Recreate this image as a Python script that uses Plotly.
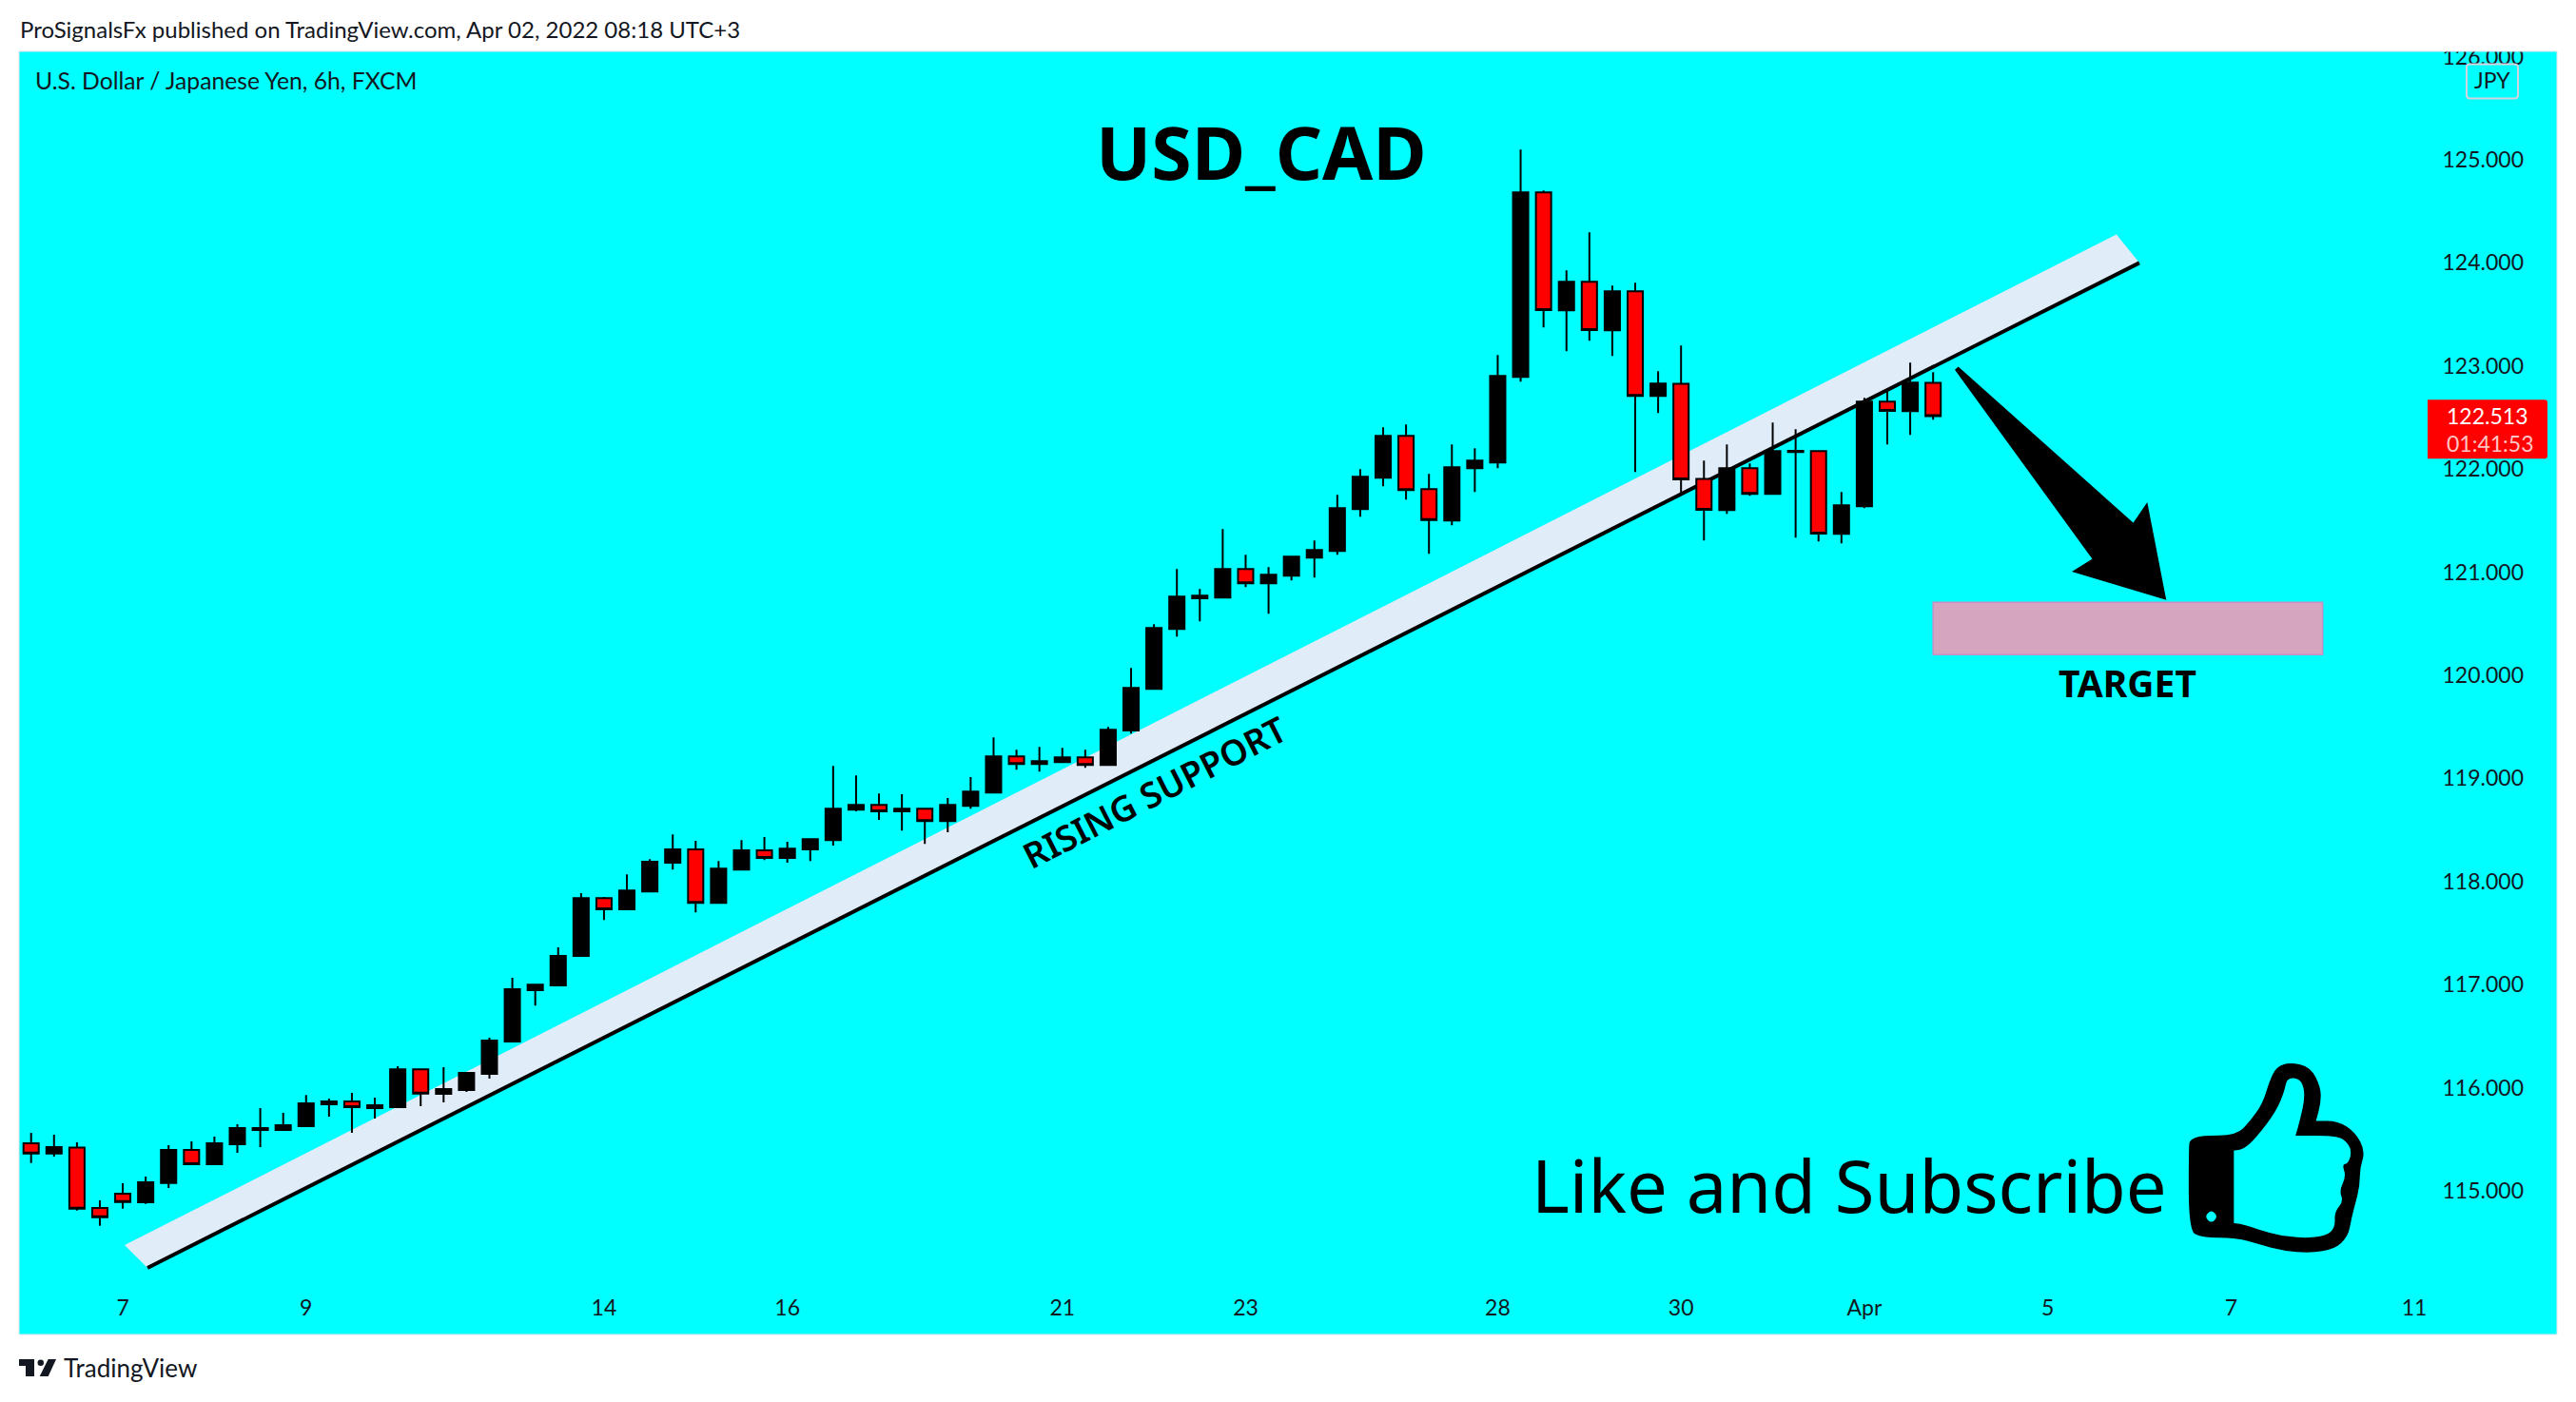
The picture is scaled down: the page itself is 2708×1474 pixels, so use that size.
import plotly.graph_objects as go

W, H = 2708, 1474
L, R, T, B = 20, 2688, 53.5, 1403

# ---- data (6h candles) ----
opens = [115.461,115.363,115.421,114.834,114.972,114.889,115.077,115.397,115.258,115.452,115.590,115.590,115.627,115.839,115.867,115.802,115.812,116.180,115.941,115.978,
116.134,116.448,116.946,116.992,117.278,117.840,117.730,117.905,118.182,118.311,117.794,118.117,118.302,118.228,118.311,118.403,118.698,118.744,118.680,118.707,
118.587,118.735,118.864,119.214,119.141,119.159,119.205,119.131,119.464,119.869,120.450,120.748,120.755,121.031,120.893,120.967,121.142,121.206,121.612,121.917,
122.322,121.806,121.502,122.009,122.064,122.894,124.683,123.540,123.816,123.346,123.724,122.710,122.827,121.904,121.603,122.009,121.760,122.166,122.175,121.372,
121.640,122.654,122.562,122.836]
highs = [115.563,115.544,115.470,114.908,115.074,115.138,115.443,115.480,115.526,115.646,115.802,115.756,115.931,115.895,115.950,115.904,116.208,116.180,116.199,116.153,
116.485,117.066,117.010,117.361,117.887,117.850,118.071,118.218,118.458,118.394,118.200,118.403,118.431,118.385,118.421,119.122,119.030,118.855,118.846,118.707,
118.809,119.012,119.399,119.279,119.307,119.297,119.279,119.500,120.072,120.496,121.031,120.838,121.419,121.170,121.050,121.160,121.308,121.751,122.000,122.405,
122.433,121.954,122.239,122.202,123.106,125.098,124.702,123.927,124.296,123.779,123.807,122.949,123.198,122.083,122.239,122.055,122.451,122.387,122.175,121.778,
122.691,122.765,123.033,122.940]
lows = [115.271,115.332,114.809,114.662,114.828,114.874,115.028,115.249,115.249,115.369,115.424,115.581,115.618,115.719,115.563,115.701,115.812,115.821,115.858,115.959,
116.088,116.439,116.798,116.983,117.278,117.628,117.730,117.905,118.117,117.702,117.794,118.117,118.209,118.182,118.200,118.348,118.680,118.597,118.495,118.366,
118.477,118.707,118.864,119.085,119.067,119.159,119.104,119.122,119.436,119.869,120.376,120.524,120.755,120.856,120.598,120.921,120.948,121.170,121.538,121.834,
121.704,121.179,121.455,121.778,122.009,122.848,123.374,123.143,123.245,123.097,121.972,122.544,121.769,121.308,121.566,121.741,121.760,121.336,121.299,121.280,
121.621,122.239,122.331,122.479]
closes = [115.363,115.424,114.828,114.745,114.892,115.083,115.397,115.258,115.461,115.609,115.609,115.636,115.848,115.867,115.812,115.830,116.180,115.944,115.987,116.144,
116.457,116.955,117.001,117.278,117.840,117.730,117.914,118.191,118.311,117.794,118.126,118.302,118.228,118.320,118.412,118.707,118.744,118.680,118.707,118.587,
118.744,118.873,119.214,119.141,119.168,119.205,119.131,119.473,119.878,120.459,120.764,120.773,121.031,120.893,120.976,121.151,121.216,121.621,121.926,122.322,
121.797,121.505,122.018,122.083,122.903,124.683,123.543,123.816,123.349,123.724,122.710,122.830,121.901,121.606,122.009,121.760,122.175,122.178,121.375,121.649,
122.654,122.565,122.839,122.513]
bars = list(range(len(opens)))

date_ticks = [4, 12, 25, 33, 45, 53, 64, 72, 80, 88, 96, 104]
date_labels = ["7", "9", "14", "16", "21", "23", "28", "30", "Apr", "5", "7", "11"]
price_ticks = [115, 116, 117, 118, 119, 120, 121, 122, 123, 124, 125, 126]

support_x = [5.08, 92.0]
support_y = [114.253, 124.0]
band_x = [4.08, 91.0, 92.0, 5.08]
band_y = [114.474, 124.276, 124.0, 114.253]
target_x = [83.0, 100.0]
target_y = [120.20, 120.708]

# ---- pixel helpers for the hand-drawn decorations ----
def fx(px): return (px - L) / (R - L)
def fy(py): return (B - py) / (B - T)

def poly(pts):
    return "M" + " L".join(f"{fx(x):.5f},{fy(y):.5f}" for x, y in pts) + " Z"

def smooth(pts):
    n = len(pts)
    mid = lambda a, b: ((a[0] + b[0]) / 2, (a[1] + b[1]) / 2)
    m0 = mid(pts[-1], pts[0])
    s = f"M{fx(m0[0]):.5f},{fy(m0[1]):.5f}"
    for i in range(n):
        m = mid(pts[i], pts[(i + 1) % n])
        s += f" Q{fx(pts[i][0]):.5f},{fy(pts[i][1]):.5f} {fx(m[0]):.5f},{fy(m[1]):.5f}"
    return s + " Z"

def round_rect(x0, y0, x1, y1, r):
    return [(x0 + r, y0), (x1 - r, y0), (x1 - r, y0), (x1, y0), (x1, y0 + r), (x1, y0 + r), (x1, y1 - r), (x1, y1 - r), (x1, y1), (x1 - r, y1), (x1 - r, y1),
            (x0 + r, y1), (x0 + r, y1), (x0, y1), (x0, y1 - r), (x0, y1 - r), (x0, y0 + r), (x0, y0 + r), (x0, y0), (x0 + r, y0)]

def z6(pts):
    return [(1580 + x / 1.39, 1080 + y / 3) for x, y in pts]

thumb_outer = z6([(1002,375),(1004,355),(1020,341),(1072,341),(1092,295),(1110,240),(1120,170),(1130,125),(1150,110),(1180,125),(1195,190),(1195,240),(1188,295),(1188,295),
                  (1220,295),(1245,330),(1260,390),(1252,445),(1252,500),(1245,560),(1240,600),(1235,660),(1215,700),(1180,712),(1140,705),(1105,685),(1072,664),(1020,664),(1002,640)])
thumb_inner = z6([(1068,388),(1068,388),(1082,385),(1100,350),(1130,265),(1142,200),(1145,165),(1155,158),(1168,170),(1172,220),(1165,290),(1158,342),(1158,342),(1220,342),(1235,365),
                  (1240,395),(1235,430),(1226,432),(1232,470),(1222,515),(1228,550),(1215,582),(1216,630),(1205,655),(1180,665),(1140,660),(1100,635),(1080,620),(1068,618),(1068,618)])
thumb_hole = z6([(1035,575),(1045,597),(1035,619),(1025,597)])
arrow_pts = [(2057,387),(2243,553),(2256,534),(2274,627),(2184,600),(2203,588)]

def cx(px): return (px - 32.7) / 24.09

fig = go.Figure(go.Candlestick(
    x=bars, open=opens, high=highs, low=lows, close=closes,
    whiskerwidth=0,
    increasing=dict(fillcolor="#000000", line=dict(color="#000000", width=2)),
    decreasing=dict(fillcolor="#ff0000", line=dict(color="#000000", width=2)),
    showlegend=False, hoverinfo="skip"))

shapes = [
    dict(type="path", xref="x", yref="y", layer="below", line=dict(width=0), fillcolor="#e0edf9",
         path="M" + " L".join(f"{a},{b}" for a, b in zip(band_x, band_y)) + " Z"),
    dict(type="line", xref="x", yref="y", layer="below", x0=support_x[0], y0=support_y[0], x1=support_x[1], y1=support_y[1],
         line=dict(color="#000000", width=4)),
    dict(type="rect", xref="x", yref="y", layer="above", x0=target_x[0], x1=target_x[1], y0=target_y[0], y1=target_y[1],
         fillcolor="#d5a5bf", line=dict(color="#c88fc4", width=1.5)),
    dict(type="path", xref="paper", yref="paper", path=poly(arrow_pts), fillcolor="#000000", line=dict(color="#000000", width=5)),
    dict(type="path", xref="paper", yref="paper", fillcolor="#000000", line=dict(width=0),
         path=smooth(thumb_outer) + " " + smooth(thumb_inner) + " " + smooth(thumb_hole)),
    # white strip that clips the top price label
    dict(type="rect", xref="paper", yref="paper", x0=fx(0), x1=fx(W), y0=fy(T), y1=fy(0), fillcolor="#ffffff", line=dict(width=0)),
    # frame of the chart pane
    dict(type="rect", xref="paper", yref="paper", x0=0, x1=1, y0=0, y1=1, fillcolor="rgba(0,0,0,0)", line=dict(color="#dfe3ea", width=1)),
    # currency chip
    dict(type="path", xref="paper", yref="paper", fillcolor="rgba(0,0,0,0)", line=dict(color="#d1d4dc", width=2),
         path=smooth(round_rect(2593, 67, 2647, 103, 7))),
    # last price tag
    dict(type="path", xref="paper", yref="paper", fillcolor="#ff0000", line=dict(width=0),
         path=smooth([(2552,420),(2552,420),(2672,420),(2678,420),(2678,426),(2678,426),(2678,476),(2678,482),(2672,482),(2552,482),(2552,482)])),
    # TradingView logo
    dict(type="path", xref="paper", yref="paper", fillcolor="#131722", line=dict(width=0),
         path=poly([(20,1429),(36,1429),(36,1447),(27,1447),(27,1436),(20,1436)])),
    dict(type="path", xref="paper", yref="paper", fillcolor="#131722", line=dict(width=0),
         path=poly([(50.7,1429),(59,1429),(50.7,1447),(41.7,1447)])),
    dict(type="circle", xref="paper", yref="paper", fillcolor="#131722", line=dict(width=0),
         x0=fx(39.5), x1=fx(46), y0=fy(1436), y1=fy(1429.5)),
]

def note(text, px, py, size, color="#131722", anchor="left", family="Lato", weight=None, angle=0):
    return dict(text=text, xref="paper", yref="paper", x=fx(px), y=fy(py), xanchor=anchor, yanchor="middle",
                showarrow=False, textangle=angle, font=dict(family=family, size=size, color=color, weight=weight))

annotations = [
    note("ProSignalsFx published on TradingView.com, Apr 02, 2022 08:18 UTC+3", 19, 30, 24),
    note("U.S. Dollar / Japanese Yen, 6h, FXCM", 35, 84, 24.7),
    note("JPY", 2620, 84, 23, anchor="center"),
    note("USD_CAD", 1326, 159, 77, color="#000000", anchor="center", family="Noto Sans", weight=700),
    note("Like and Subscribe", 1944, 1245, 76, color="#000000", anchor="center", family="Noto Sans"),
    note("TARGET", 2236, 717.5, 39, color="#000000", anchor="center", family="Noto Sans", weight=700),
    note("RISING SUPPORT", 1213, 832, 37, color="#000000", anchor="center", family="Noto Sans", weight=600, angle=-27),
    note("122.513", 2614, 437, 23, color="#ffffff", anchor="center"),
    note("01:41:53", 2618, 466, 23, color="#ffc4c4", anchor="center"),
    note("TradingView", 65, 1438, 26, family="Lato"),
]

fig.update_layout(
    width=W, height=H, autosize=False,
    margin=dict(l=L, r=W - R, t=T, b=H - B, pad=0),
    paper_bgcolor="#ffffff", plot_bgcolor="#00ffff",
    boxgap=0.3, boxgroupgap=0.05,
    shapes=shapes, annotations=annotations, showlegend=False, hovermode=False,
    xaxis=dict(range=[cx(L), cx(R)], tickmode="array", tickvals=date_ticks, ticktext=date_labels,
               showgrid=False, zeroline=False, showline=False, ticks="", rangeslider=dict(visible=False),
               ticklabelposition="inside", ticklabelstandoff=12, ticklabeloverflow="allow",
               tickfont=dict(family="Lato", size=23, color="#131722")),
    yaxis=dict(range=[115 + (1252 - B) / 108.45, 115 + (1252 - T) / 108.45], side="right", tickmode="array",
               tickvals=price_ticks, ticktext=[f"{v:.3f}" for v in price_ticks],
               showgrid=False, zeroline=False, showline=False, ticks="",
               ticklabelposition="inside", ticklabelstandoff=32, ticklabeloverflow="allow",
               tickfont=dict(family="Lato", size=23, color="#131722")),
)

fig.write_html("out.html", config=dict(displayModeBar=False), post_script="document.body.style.margin='0';")
